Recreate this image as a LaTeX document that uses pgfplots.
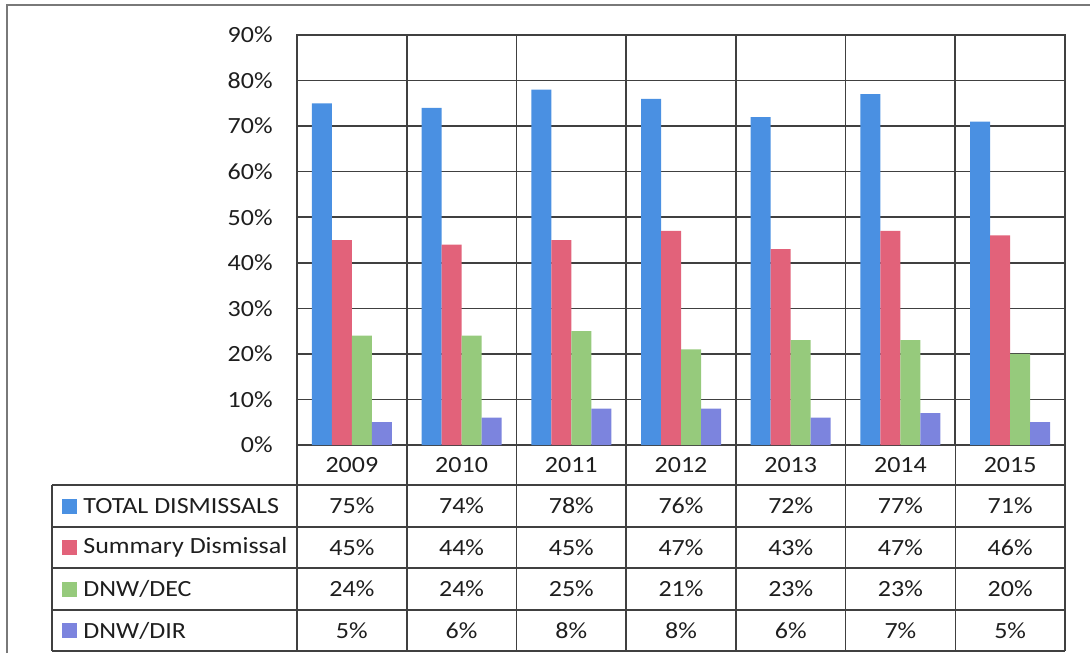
\documentclass[border=0pt]{standalone}
\usepackage{pgfplots}
\pgfplotsset{compat=1.18}
\usepackage{fontspec}
\setmainfont{Carlito}[FakeStretch=1.12]
\definecolor{cTot}{RGB}{74,144,226}
\definecolor{cSum}{RGB}{226,98,122}
\definecolor{cDec}{RGB}{150,202,124}
\definecolor{cDir}{RGB}{124,132,222}
\definecolor{gridc}{RGB}{64,64,64}
\definecolor{txt}{RGB}{30,30,30}
\begin{document}
\begin{tikzpicture}[x=1pt,y=1pt,font=\fontsize{11.6}{13}\selectfont]
\useasboundingbox (-148.5,-104) rectangle (396.5,222.5);
\begin{axis}[
  at={(0,0)}, anchor=south west,
  width=384pt, height=205pt, scale only axis,
  xmin=-0.5, xmax=6.5, ymin=0, ymax=90,
  ytick={0,10,...,90},
  yticklabel={\pgfmathprintnumber{\tick}\%},
  xtick={-0.5,0.5,...,6.5}, xticklabels={},
  xmajorgrids, ymajorgrids,
  grid style={gridc, line width=0.8pt},
  axis line style={gridc, line width=0.8pt},
  major tick length=0pt,
  ybar=0pt, bar width=10pt,
  clip=false,
  /pgf/number format/assume math mode=true,
  yticklabel style={inner sep=0pt, xshift=-12pt, text=txt, font=\fontsize{11.6}{13}\selectfont},
]
\addplot[fill=cTot, draw=none] coordinates {(0,75) (1,74) (2,78) (3,76) (4,72) (5,77) (6,71)};
\addplot[fill=cSum, draw=none] coordinates {(0,45) (1,44) (2,45) (3,47) (4,43) (5,47) (6,46)};
\addplot[fill=cDec, draw=none] coordinates {(0,24) (1,24) (2,25) (3,21) (4,23) (5,23) (6,20)};
\addplot[fill=cDir, draw=none] coordinates {(0,5) (1,6) (2,8) (3,8) (4,6) (5,7) (6,5)};
\end{axis}
% outer chart border
\draw[gridc!70, line width=0.8pt] (-145,-104) -- (-145,220) -- (396.5,220);
% data table grid
\begin{scope}[gridc, line width=0.8pt]
\foreach \i in {0,...,7} { \draw ({\i*384/7},0) -- ({\i*384/7},-103); }
\draw (-122.5,-20) -- (-122.5,-103);
\foreach \yy in {-20,-41,-61.5,-82.5,-103} { \draw (-122.5,\yy) -- (384,\yy); }
\end{scope}
% years
\foreach \yr [count=\i from 0] in {2009,2010,2011,2012,2013,2014,2015}
  { \node[text=txt] at ({(\i+0.5)*384/7},-10) {\yr}; }
% legend keys and names
\foreach \c/\n/\yy in {cTot/{TOTAL DISMISSALS}/-30.5, cSum/{Summary Dismissal}/-51.25, cDec/{DNW\slash DEC}/-72, cDir/{DNW\slash DIR}/-92.75}
  { \fill[\c] (-117.5,\yy-3.75) rectangle (-110,\yy+3.75);
    \node[anchor=west, inner sep=0pt, text=txt] at (-107,\yy) {\n}; }
% values
\foreach \v [count=\i from 0] in {75,74,78,76,72,77,71}
  { \node[text=txt] at ({(\i+0.5)*384/7},-30.5) {\v\%}; }
\foreach \v [count=\i from 0] in {45,44,45,47,43,47,46}
  { \node[text=txt] at ({(\i+0.5)*384/7},-51.25) {\v\%}; }
\foreach \v [count=\i from 0] in {24,24,25,21,23,23,20}
  { \node[text=txt] at ({(\i+0.5)*384/7},-72) {\v\%}; }
\foreach \v [count=\i from 0] in {5,6,8,8,6,7,5}
  { \node[text=txt] at ({(\i+0.5)*384/7},-92.75) {\v\%}; }
\end{tikzpicture}
\end{document}
